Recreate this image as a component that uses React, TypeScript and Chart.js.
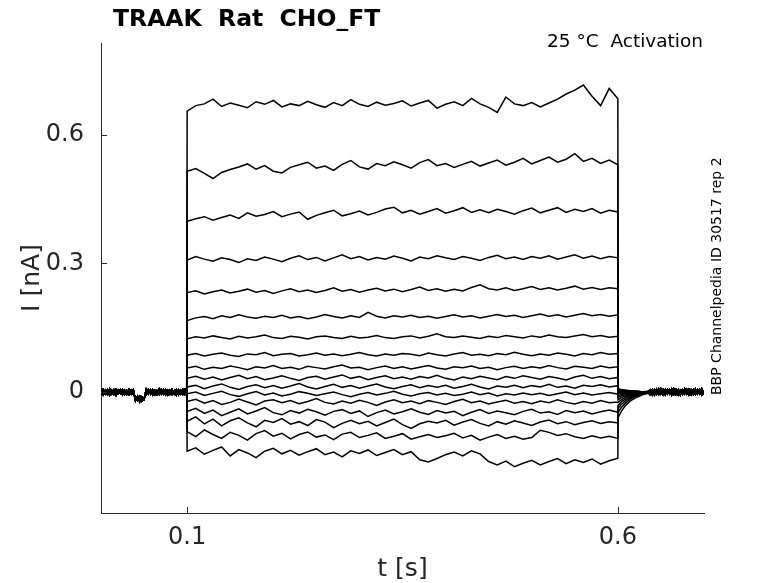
import { useEffect, useRef } from "react";
import { Chart, registerables } from "chart.js";

Chart.register(...registerables);

const FONT = "DejaVu Sans";

// time grids [s]
const preTimes = [
  0, 0.0025, 0.005, 0.0075, 0.01, 0.0125, 0.015, 0.0175, 0.02, 0.0225,
  0.025, 0.0275, 0.03, 0.0325, 0.035, 0.0375, 0.04, 0.0425, 0.045, 0.0475,
  0.05, 0.0525, 0.055, 0.0575, 0.06, 0.0625, 0.065, 0.0675, 0.07, 0.0725,
  0.075, 0.0775, 0.08, 0.0825, 0.085, 0.0875, 0.09, 0.0925, 0.095, 0.0975,
  0.0995,
];
const stepTimes = [
  0.1, 0.11, 0.12, 0.13, 0.14, 0.15, 0.16, 0.17, 0.18, 0.19,
  0.2, 0.21, 0.22, 0.23, 0.24, 0.25, 0.26, 0.27, 0.28, 0.29,
  0.3, 0.31, 0.32, 0.33, 0.34, 0.35, 0.36, 0.37, 0.38, 0.39,
  0.4, 0.41, 0.42, 0.43, 0.44, 0.45, 0.46, 0.47, 0.48, 0.49,
  0.5, 0.51, 0.52, 0.53, 0.54, 0.55, 0.56, 0.57, 0.58, 0.59,
  0.6,
];
const tailTimes = [0.6002, 0.604, 0.609, 0.615, 0.622, 0.629, 0.635];
const postTimes = [
  0.6375, 0.64, 0.6425, 0.645, 0.6475, 0.65, 0.6525, 0.655, 0.6575, 0.66,
  0.6625, 0.665, 0.6675, 0.67, 0.6725, 0.675, 0.6775, 0.68, 0.6825, 0.685,
  0.6875, 0.69, 0.6925, 0.695, 0.6975, 0.7,
];

// holding current before the step [nA]
const preA = [
  0.005, -0.006, 0.004, -0.005, 0.007, -0.004, 0.005, -0.007, 0.004, -0.003,
  0.006, -0.005, 0.003, -0.006, 0.004, -0.005, -0.011, -0.019, -0.01, -0.021,
  -0.015, -0.005, 0.006, -0.004, 0.005, -0.006, 0.003, -0.005, 0.006, -0.004,
  0.005, -0.006, 0.004, -0.005, 0.003, -0.007, 0.005, -0.004, 0.006, -0.005,
  0.002,
];
const preB = [
  -0.005, 0.006, -0.004, 0.005, -0.007, 0.004, -0.005, 0.006, -0.003, 0.005,
  -0.006, 0.004, -0.005, 0.006, -0.004, 0.005, -0.02, -0.01, -0.022, -0.011,
  -0.017, 0.006, -0.004, 0.005, -0.006, 0.004, -0.005, 0.007, -0.004, 0.005,
  -0.006, 0.004, -0.005, 0.006, -0.004, 0.005, -0.006, 0.004, -0.005, 0.006,
  -0.003,
];
// holding current after the step [nA]
const postA = [
  0.005, -0.006, 0.006, -0.005, 0.007, -0.004, 0.006, -0.006, 0.005, -0.004,
  0.007, -0.005, 0.006, -0.006, 0.004, -0.005, 0.007, -0.004, 0.006, -0.006,
  0.005, -0.005, 0.006, -0.004, 0.007, -0.005,
];
const postB = [
  -0.006, 0.005, -0.007, 0.006, -0.005, 0.007, -0.006, 0.005, -0.004, 0.006,
  -0.006, 0.007, -0.005, 0.005, -0.007, 0.006, -0.004, 0.006, -0.006, 0.005,
  -0.005, 0.007, -0.004, 0.006, -0.006, 0.004,
];

// current during the step, one sweep each [nA]
const step01 = [
  0.655, 0.668, 0.672, 0.683, 0.666, 0.674, 0.669, 0.663, 0.677, 0.671,
  0.68, 0.665, 0.672, 0.668, 0.678, 0.67, 0.664, 0.675, 0.668, 0.682,
  0.671, 0.666, 0.676, 0.669, 0.673, 0.679, 0.667, 0.674, 0.68, 0.662,
  0.671, 0.677, 0.668, 0.685, 0.672, 0.664, 0.652, 0.688, 0.672, 0.668,
  0.675, 0.665, 0.674, 0.683, 0.695, 0.704, 0.716, 0.69, 0.668, 0.708,
  0.684,
];
const step02 = [
  0.515, 0.521, 0.51, 0.498, 0.512, 0.519, 0.525, 0.532, 0.52, 0.528,
  0.515, 0.511, 0.524, 0.53, 0.536, 0.522, 0.527, 0.517, 0.531, 0.54,
  0.525, 0.52, 0.533, 0.528, 0.537, 0.53, 0.522, 0.535, 0.542, 0.528,
  0.533, 0.524, 0.531, 0.538, 0.527, 0.534, 0.541, 0.529, 0.536, 0.545,
  0.532, 0.54, 0.548, 0.536, 0.543, 0.556, 0.538, 0.545, 0.533, 0.541,
  0.53,
];
const step03 = [
  0.398, 0.404, 0.409, 0.401, 0.407, 0.413, 0.405, 0.418, 0.41, 0.414,
  0.421, 0.409, 0.415, 0.42, 0.403, 0.412, 0.418, 0.424, 0.411, 0.416,
  0.422, 0.413, 0.419, 0.427, 0.431, 0.418, 0.424, 0.415, 0.421, 0.428,
  0.417, 0.423, 0.43, 0.419, 0.425, 0.418, 0.426, 0.421, 0.415, 0.423,
  0.429, 0.418, 0.424, 0.43, 0.419, 0.426, 0.421, 0.428, 0.417, 0.424,
  0.42,
];
const step04 = [
  0.308, 0.316, 0.31, 0.305, 0.313, 0.309, 0.302, 0.311, 0.307, 0.315,
  0.31, 0.304, 0.312, 0.318, 0.309, 0.314, 0.306, 0.313, 0.32, 0.311,
  0.316, 0.308, 0.314, 0.31, 0.317, 0.312, 0.306, 0.315, 0.311, 0.318,
  0.313, 0.309, 0.316, 0.312, 0.307, 0.314, 0.319, 0.311, 0.315, 0.309,
  0.316, 0.312, 0.318, 0.31, 0.315, 0.32, 0.312, 0.317, 0.311, 0.316,
  0.313,
];
const step05 = [
  0.232, 0.236, 0.229, 0.234, 0.238, 0.231, 0.235, 0.24, 0.233, 0.237,
  0.23, 0.236, 0.241, 0.234, 0.238, 0.232, 0.237, 0.243, 0.235, 0.239,
  0.233, 0.238, 0.242, 0.236, 0.24, 0.234, 0.239, 0.245, 0.237, 0.241,
  0.235, 0.24, 0.236, 0.244, 0.25, 0.241, 0.238, 0.243, 0.237, 0.241,
  0.246, 0.239, 0.243, 0.238, 0.242, 0.247, 0.24, 0.244, 0.239, 0.243,
  0.241,
];
const step06 = [
  0.167, 0.173, 0.176, 0.171, 0.178, 0.174, 0.18, 0.175, 0.172, 0.177,
  0.174, 0.179, 0.173, 0.176, 0.171, 0.175, 0.181, 0.176, 0.173, 0.178,
  0.174, 0.186, 0.177, 0.173, 0.178, 0.175, 0.179, 0.174, 0.177, 0.172,
  0.176, 0.18, 0.175, 0.178, 0.173, 0.177, 0.181, 0.176, 0.179, 0.174,
  0.178, 0.182, 0.177, 0.18, 0.175, 0.179, 0.183, 0.178, 0.181, 0.177,
  0.18,
];
const step07 = [
  0.124, 0.129, 0.126, 0.131, 0.127, 0.124, 0.13, 0.126, 0.129, 0.133,
  0.127, 0.125, 0.13, 0.128, 0.124, 0.129, 0.131, 0.127, 0.125, 0.13,
  0.126, 0.128, 0.132, 0.127, 0.125, 0.129, 0.131, 0.126, 0.13, 0.136,
  0.129, 0.127, 0.131, 0.128, 0.125, 0.13, 0.127, 0.132, 0.129, 0.126,
  0.131, 0.128, 0.133, 0.129, 0.127, 0.131, 0.134, 0.129, 0.132, 0.128,
  0.13,
];
const step08 = [
  0.086, 0.09, 0.084, 0.088, 0.091, 0.086, 0.083, 0.089, 0.087, 0.092,
  0.085, 0.088, 0.09, 0.084, 0.087, 0.091, 0.086, 0.089, 0.085, 0.088,
  0.092, 0.087, 0.084, 0.089, 0.086, 0.09, 0.088, 0.085, 0.091, 0.087,
  0.084, 0.089, 0.092, 0.086, 0.088, 0.085, 0.09, 0.087, 0.093, 0.088,
  0.085, 0.089, 0.086, 0.091, 0.088, 0.084, 0.09, 0.087, 0.092, 0.088,
  0.09,
];
const step09 = [
  0.056, 0.06, 0.053, 0.058, 0.055, 0.061, 0.057, 0.052, 0.059, 0.056,
  0.062, 0.055, 0.058, 0.053, 0.06, 0.057, 0.054, 0.059, 0.063, 0.056,
  0.058, 0.052, 0.057, 0.061, 0.055, 0.059, 0.054, 0.058, 0.062, 0.056,
  0.053, 0.059, 0.057, 0.061, 0.055, 0.058, 0.052, 0.057, 0.06, 0.055,
  0.059, 0.056, 0.062, 0.057, 0.054, 0.06, 0.058, 0.055, 0.061, 0.057,
  0.059,
];
const step10 = [
  0.032, 0.037, 0.03, 0.035, 0.028, 0.034, 0.039, 0.031, 0.036, 0.029,
  0.033, 0.038, 0.032, 0.027, 0.034, 0.037, 0.03, 0.035, 0.04, 0.032,
  0.036, 0.029, 0.034, 0.038, 0.031, 0.035, 0.03, 0.036, 0.033, 0.039,
  0.032, 0.028, 0.035, 0.031, 0.037, 0.033, 0.029, 0.036, 0.032, 0.038,
  0.034, 0.03, 0.036, 0.033, 0.028, 0.035, 0.039, 0.032, 0.036, 0.031,
  0.034,
];
const step11 = [
  0.012, 0.016, 0.008, 0.014, 0.019, 0.011, 0.006, 0.013, 0.017, 0.01,
  0.015, 0.009, 0.014, 0.02, 0.012, 0.007, 0.013, 0.018, 0.011, 0.015,
  0.009, 0.014, 0.019, 0.012, 0.008, 0.013, 0.017, 0.01, 0.015, 0.011,
  0.016, 0.009, 0.013, 0.018, 0.012, 0.007, 0.014, 0.011, 0.016, 0.01,
  0.015, 0.012, 0.018, 0.011, 0.014, 0.009, 0.016, 0.013, 0.017, 0.012,
  0.015,
];
const step12 = [
  -0.004, 0.0, -0.008, -0.003, 0.002, -0.006, -0.01, -0.004, 0.001, -0.007,
  -0.002, -0.009, -0.005, 0.001, -0.003, -0.008, -0.004, 0.0, -0.006, -0.011,
  -0.005, -0.001, -0.007, -0.003, 0.002, -0.005, -0.009, -0.004, -0.001, -0.007,
  -0.003, -0.008, -0.005, 0.0, -0.006, -0.002, -0.009, -0.004, -0.007, -0.002,
  -0.006, -0.003, -0.008, -0.004, 0.0, -0.006, -0.002, -0.007, -0.004, -0.001,
  -0.005,
];
const step13 = [
  -0.022, -0.017, -0.026, -0.02, -0.029, -0.024, -0.016, -0.023, -0.03, -0.021,
  -0.018, -0.025, -0.02, -0.027, -0.022, -0.015, -0.024, -0.028, -0.021, -0.026,
  -0.019, -0.024, -0.031, -0.023, -0.018, -0.025, -0.021, -0.027, -0.02, -0.024,
  -0.029, -0.022, -0.017, -0.025, -0.021, -0.028, -0.023, -0.019, -0.026, -0.022,
  -0.027, -0.021, -0.025, -0.018, -0.024, -0.028, -0.022, -0.026, -0.02, -0.025,
  -0.023,
];
const step14 = [
  -0.045, -0.038, -0.05, -0.042, -0.055, -0.047, -0.039, -0.051, -0.044, -0.036,
  -0.048, -0.053, -0.043, -0.049, -0.04, -0.046, -0.054, -0.045, -0.041, -0.05,
  -0.044, -0.057, -0.048, -0.042, -0.051, -0.046, -0.039, -0.047, -0.052, -0.043,
  -0.049, -0.045, -0.055, -0.047, -0.041, -0.05, -0.044, -0.048, -0.053, -0.045,
  -0.04, -0.049, -0.046, -0.052, -0.043, -0.048, -0.044, -0.051, -0.046, -0.042,
  -0.047,
];
const step15 = [
  -0.068, -0.058, -0.074, -0.063, -0.079, -0.067, -0.06, -0.072, -0.081, -0.066,
  -0.071, -0.062, -0.075, -0.069, -0.078, -0.064, -0.07, -0.083, -0.073, -0.066,
  -0.074, -0.068, -0.079, -0.071, -0.063, -0.076, -0.085, -0.074, -0.068, -0.072,
  -0.066, -0.077, -0.07, -0.064, -0.073, -0.079, -0.069, -0.075, -0.067, -0.072,
  -0.078, -0.07, -0.065, -0.074, -0.069, -0.076, -0.071, -0.067, -0.073, -0.069,
  -0.072,
];
const step16 = [
  -0.092, -0.104, -0.088, -0.099, -0.108, -0.094, -0.101, -0.112, -0.097, -0.09,
  -0.103, -0.096, -0.109, -0.099, -0.093, -0.105, -0.1, -0.111, -0.098, -0.094,
  -0.106, -0.101, -0.095, -0.108, -0.103, -0.097, -0.11, -0.104, -0.099, -0.106,
  -0.102, -0.096, -0.107, -0.101, -0.112, -0.105, -0.099, -0.108, -0.103, -0.11,
  -0.106, -0.089, -0.094, -0.101, -0.097, -0.104, -0.108, -0.102, -0.107, -0.103,
  -0.108,
];
const step17 = [
  -0.138, -0.13, -0.145, -0.136, -0.128, -0.149, -0.134, -0.142, -0.153, -0.138,
  -0.131, -0.144, -0.136, -0.147, -0.139, -0.132, -0.146, -0.14, -0.151, -0.137,
  -0.143, -0.135, -0.148, -0.141, -0.134, -0.146, -0.139, -0.158, -0.163, -0.155,
  -0.146, -0.14, -0.149, -0.137, -0.144, -0.162, -0.17, -0.161, -0.174, -0.166,
  -0.159, -0.17, -0.162, -0.155, -0.167, -0.158, -0.164, -0.156, -0.168, -0.16,
  -0.154,
];

// tail currents right after the step [nA]
const tail01 = [0.008, 0.006, 0.004, 0.003, 0.002, 0.001, 0.002];
const tail02 = [0.007, 0.005, 0.004, 0.002, 0.002, 0.0, 0.001];
const tail03 = [0.006, 0.004, 0.003, 0.002, 0.001, 0.001, 0.0];
const tail04 = [0.005, 0.004, 0.002, 0.001, 0.002, 0.0, 0.001];
const tail05 = [0.004, 0.003, 0.002, 0.001, 0.0, 0.001, 0.0];
const tail06 = [0.003, 0.002, 0.001, 0.0, 0.001, -0.001, 0.0];
const tail07 = [0.002, 0.001, 0.0, 0.001, -0.001, 0.0, 0.001];
const tail08 = [0.0, -0.001, 0.001, 0.0, -0.001, 0.001, 0.0];
const tail09 = [-0.004, -0.003, -0.002, -0.001, 0.0, -0.001, 0.0];
const tail10 = [-0.008, -0.006, -0.004, -0.003, -0.001, 0.0, -0.001];
const tail11 = [-0.012, -0.009, -0.006, -0.004, -0.002, -0.001, 0.0];
const tail12 = [-0.018, -0.013, -0.009, -0.006, -0.003, -0.002, 0.0];
const tail13 = [-0.024, -0.018, -0.012, -0.008, -0.005, -0.002, -0.001];
const tail14 = [-0.031, -0.023, -0.016, -0.011, -0.006, -0.003, -0.001];
const tail15 = [-0.038, -0.029, -0.02, -0.013, -0.008, -0.004, -0.002];
const tail16 = [-0.047, -0.036, -0.025, -0.016, -0.009, -0.005, -0.002];
const tail17 = [-0.06, -0.045, -0.031, -0.02, -0.012, -0.006, -0.003];

const sweeps = [
  [step01, tail01], [step02, tail02], [step03, tail03], [step04, tail04],
  [step05, tail05], [step06, tail06], [step07, tail07], [step08, tail08],
  [step09, tail09], [step10, tail10], [step11, tail11], [step12, tail12],
  [step13, tail13], [step14, tail14], [step15, tail15], [step16, tail16],
  [step17, tail17],
];

const xTicks = [0.1, 0.6];
const xTickLabels = ["0.1", "0.6"];
const yTicks = [0, 0.3, 0.6];
const yTickLabels = ["0", "0.3", "0.6"];

const toPoints = (times: number[], values: number[]) =>
  times.map((t, i) => ({ x: t, y: values[i] }));

const figureText = {
  id: "figureText",
  afterDraw(chart: any) {
    const { ctx, chartArea, scales } = chart;
    ctx.save();
    // inward tick marks
    ctx.strokeStyle = "#262626";
    ctx.lineWidth = 1;
    scales.y.ticks.forEach((t: any) => {
      const py = Math.round(scales.y.getPixelForValue(t.value)) + 0.5;
      ctx.beginPath();
      ctx.moveTo(chartArea.left, py);
      ctx.lineTo(chartArea.left + 6, py);
      ctx.stroke();
    });
    scales.x.ticks.forEach((t: any) => {
      const px = Math.round(scales.x.getPixelForValue(t.value)) + 0.5;
      ctx.beginPath();
      ctx.moveTo(px, chartArea.bottom);
      ctx.lineTo(px, chartArea.bottom - 6);
      ctx.stroke();
    });

    ctx.fillStyle = "#000";
    ctx.textBaseline = "alphabetic";
    ctx.font = `bold 23.5px "${FONT}"`;
    ctx.textAlign = "left";
    ctx.fillText("TRAAK  Rat  CHO_FT", 113, 26);

    ctx.font = `18.5px "${FONT}"`;
    ctx.textAlign = "right";
    ctx.fillText("25 °C  Activation", 703, 47);

    ctx.fillStyle = "#262626";
    ctx.font = `25px "${FONT}"`;
    ctx.textAlign = "center";
    ctx.fillText("t [s]", (chartArea.left + chartArea.right) / 2, 576);

    ctx.save();
    ctx.translate(39, (chartArea.top + chartArea.bottom) / 2);
    ctx.rotate(-Math.PI / 2);
    ctx.fillText("I [nA]", 0, 0);
    ctx.restore();

    ctx.save();
    ctx.fillStyle = "#000";
    ctx.translate(721, 395);
    ctx.rotate(-Math.PI / 2);
    ctx.font = `14px "${FONT}"`;
    ctx.textAlign = "left";
    ctx.fillText("BBP Channelpedia ID 30517 rep 2", 0, 0);
    ctx.restore();

    ctx.restore();
  },
};

const App = () => {
  const canvasRef = useRef<HTMLCanvasElement | null>(null);

  useEffect(() => {
    if (!canvasRef.current) return;

    const datasets = sweeps.map(([step, tail], i) => ({
      data: [
        ...toPoints(preTimes, i % 2 === 0 ? preA : preB),
        ...toPoints(stepTimes, step),
        ...toPoints(tailTimes, tail),
        ...toPoints(postTimes, i % 2 === 0 ? postA : postB),
      ],
      borderColor: "#000",
      borderWidth: 1.5,
      pointRadius: 0,
      fill: false,
    }));

    const chart = new Chart(canvasRef.current, {
      type: "line",
      data: { datasets },
      options: {
        animation: false,
        responsive: false,
        devicePixelRatio: 1,
        layout: { padding: { left: 0, right: 74, top: 43, bottom: 0 } },
        plugins: {
          legend: { display: false },
          title: { display: false },
          tooltip: { enabled: false },
        },
        scales: {
          x: {
            type: "linear",
            min: 0,
            max: 0.7,
            grid: { display: false, drawTicks: false },
            border: { display: true, color: "#262626", width: 1 },
            afterBuildTicks: (axis: any) => {
              axis.ticks = xTicks.map((v) => ({ value: v }));
            },
            afterFit: (axis: any) => {
              axis.height = 70;
            },
            ticks: {
              autoSkip: false,
              maxRotation: 0,
              padding: 10,
              color: "#262626",
              font: { family: FONT, size: 24 },
              callback: (_v: any, i: number) => xTickLabels[i],
            },
          },
          y: {
            type: "linear",
            min: -0.282,
            max: 0.814,
            grid: { display: false, drawTicks: false },
            border: { display: true, color: "#262626", width: 1 },
            afterBuildTicks: (axis: any) => {
              axis.ticks = yTicks.map((v) => ({ value: v }));
            },
            afterFit: (axis: any) => {
              axis.width = 101;
            },
            ticks: {
              autoSkip: false,
              padding: 17,
              color: "#262626",
              font: { family: FONT, size: 24 },
              callback: (_v: any, i: number) => yTickLabels[i],
            },
          },
        },
      },
      plugins: [figureText],
    });

    return () => {
      chart.destroy();
    };
  }, []);

  return (
    <div style={{ position: "absolute", left: 0, top: 0, width: 778, height: 583, background: "#fff" }}>
      <canvas ref={canvasRef} width={778} height={583} />
    </div>
  );
};

export default App;
